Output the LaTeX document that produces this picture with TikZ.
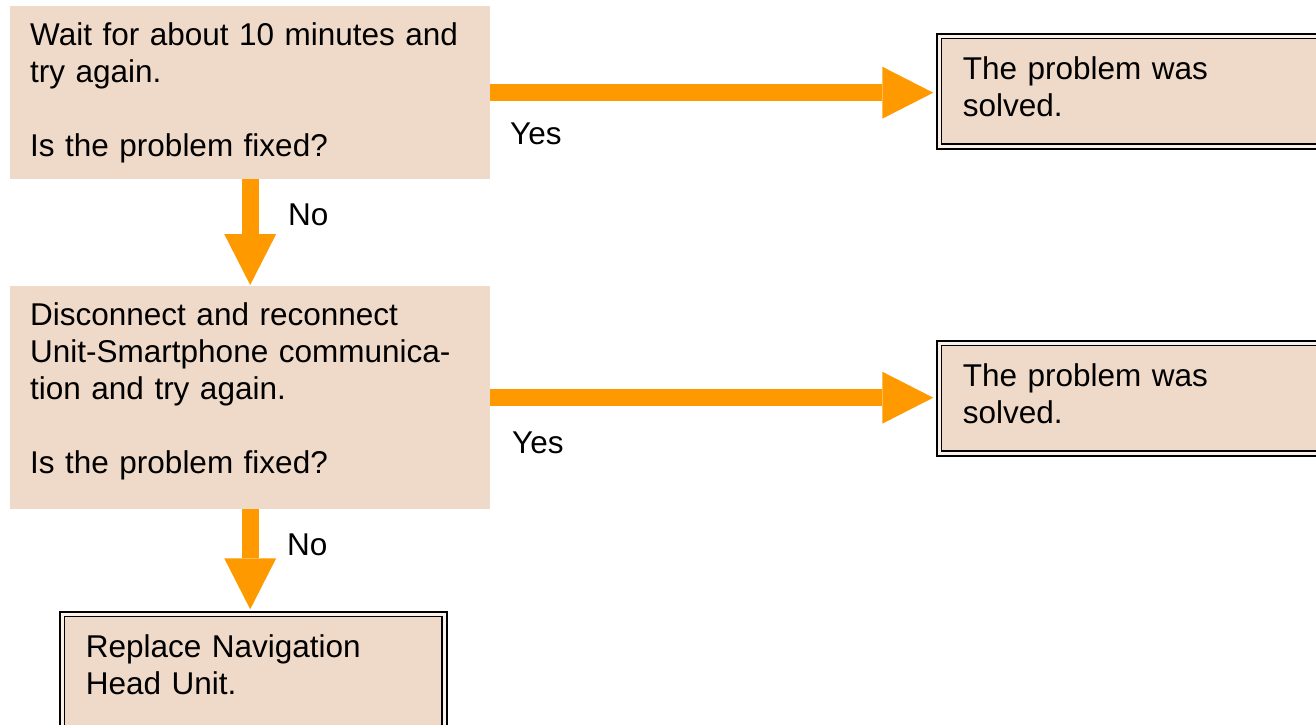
\documentclass[tikz,border=0pt]{standalone}
\usepackage{fontspec}
\setmainfont{Liberation Sans}
\usepackage{tikz}
\usetikzlibrary{arrows.meta,positioning,calc}
\definecolor{peach}{RGB}{239,217,200}
\definecolor{flow}{RGB}{255,153,0}

\begin{document}
\begin{tikzpicture}[x=1pt,y=1pt,font=\fontsize{31.5}{37}\selectfont,
  stepbox/.style={fill=peach,align=left,anchor=north west,inner xsep=20pt,inner ysep=0pt,text height=39pt},
  endbox/.style={fill=peach,draw=black,line width=1.75pt,double=peach!40!white,double distance=3pt,
    align=left,anchor=north west,inner xsep=23.75pt,inner ysep=0pt,text height=43pt},
  go/.style={draw=flow,line width=17pt,-{Triangle[width=52pt,length=51pt,line width=0pt]}},
  lbl/.style={anchor=base west,inner sep=0pt}]
 \useasboundingbox (0,0) rectangle (1316,-724);
 % questions
 \node[stepbox,text width=440pt,text depth=134pt] (q1) at (10,-6)
   {Wait for about 10 minutes and\\try again.\\[37pt]Is the problem fixed?};
 \node[stepbox,text width=440pt,text depth=184pt] (q2) at (10,-286)
   {Disconnect and reconnect\\Unit-Smartphone communica-\\tion and try again.\\[37pt]Is the problem fixed?};
 % results
 \node[endbox,text width=420pt,text depth=67.5pt] (ok1) at (938.25,-35.25) {The problem was\\solved.};
 \node[endbox,text width=420pt,text depth=67.5pt] (ok2) at (938.25,-342.25) {The problem was\\solved.};
 \node[endbox,text width=335pt,text depth=100pt] (fix) at (61.25,-613.25) {Replace Navigation\\Head Unit.};
 % yes
 \draw[go] (q1.east) -- ([xshift=-5pt]q1.east -| ok1.west);
 \draw[go] (q2.east) -- ([xshift=-5pt]q2.east -| ok2.west);
 \node[lbl] (yes1) at (510,-144) {Yes};
 \node[lbl] (yes2) at (512,-453) {Yes};
 % no
 \draw[go] (q1.south) -- ([yshift=1pt]q2.north -| q1.south);
 \draw[go] (q2.south) -- ([yshift=4pt]fix.north -| q2.south);
 \node[lbl] (no1) at (288,-225) {No};
 \node[lbl] (no2) at (287,-555) {No};
\end{tikzpicture}
\end{document}
